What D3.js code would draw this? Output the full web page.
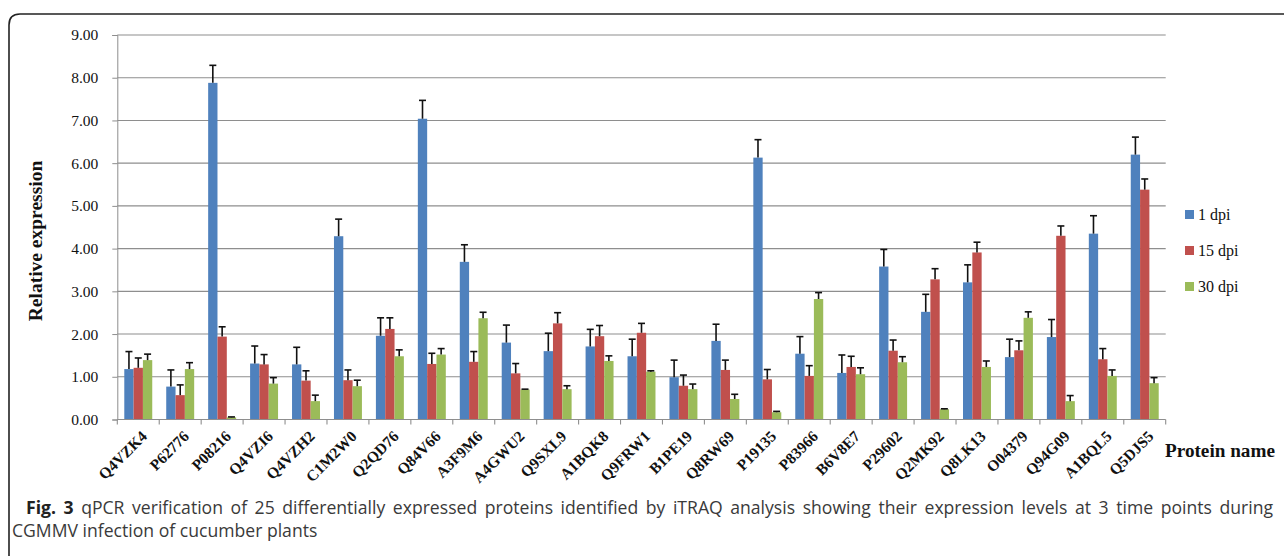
<!DOCTYPE html>
<html>
<head>
<meta charset="utf-8">
<script src="https://cdn.jsdelivr.net/npm/d3@7"></script>
<style>
  body { margin: 0; background: #fff; }
  svg { display: block; }
</style>
</head>
<body>
<div id="chart"></div>
<script>
// protein names on the x axis
const proteins = ["Q4VZK4","P62776","P08216","Q4VZI6","Q4VZH2","C1M2W0","Q2QD76","Q84V66","A3F9M6","A4GWU2",
  "Q9SXL9","A1BQK8","Q9FRW1","B1PE19","Q8RW69","P19135","P83966","B6V8E7","P29602","Q2MK92",
  "Q8LK13","O04379","Q94G09","A1BQL5","Q5DJS5"];
const seriesNames = ["1 dpi", "15 dpi", "30 dpi"];

// relative expression
const dpi1  = [1.18,0.77,7.88,1.31,1.29,4.29,1.96,7.04,3.69,1.80,1.60,1.71,1.48,0.99,1.84,6.13,1.54,1.09,3.58,2.52,3.21,1.46,1.93,4.35,6.20];
const dpi15 = [1.21,0.57,1.94,1.29,0.91,0.92,2.12,1.30,1.35,1.08,2.25,1.95,2.03,0.79,1.16,0.94,1.02,1.23,1.61,3.28,3.91,1.62,4.30,1.41,5.38];
const dpi30 = [1.39,1.18,0.05,0.84,0.43,0.78,1.48,1.52,2.37,0.70,0.71,1.37,1.12,0.71,0.48,0.17,2.82,1.06,1.34,0.24,1.23,2.38,0.43,1.02,0.85];

// error bar sizes (upper side only)
const err1  = [0.41,0.39,0.41,0.41,0.40,0.40,0.42,0.43,0.40,0.41,0.42,0.40,0.40,0.40,0.39,0.42,0.40,0.42,0.40,0.41,0.41,0.42,0.41,0.42,0.41];
const err15 = [0.23,0.24,0.23,0.23,0.23,0.24,0.26,0.25,0.24,0.23,0.25,0.25,0.22,0.25,0.23,0.23,0.24,0.25,0.25,0.25,0.24,0.22,0.23,0.25,0.25];
const err30 = [0.14,0.15,0.01,0.14,0.14,0.14,0.15,0.14,0.14,0.01,0.08,0.12,0.02,0.12,0.11,0.02,0.15,0.15,0.13,0.01,0.14,0.14,0.13,0.14,0.13];

const yTicks = [0,1,2,3,4,5,6,7,8,9];
const colors = ["#4F81BD", "#C0504D", "#9BBB59"];

const W = 1284, H = 556;
const svg = d3.select("#chart").append("svg").attr("width", W).attr("height", H);

// frame around figure (open on right and bottom)
svg.append("path")
  .attr("d", "M9,556 L9,25 Q9,14 20,14 L1284,14")
  .attr("fill", "none").attr("stroke", "#222").attr("stroke-width", 1.6);

const pLeft = 117.3, pRight = 1165.7, pTop = 35, pBottom = 419.5;

const x0 = d3.scaleBand().domain(proteins).range([pLeft, pRight]).padding(0);
const bw = x0.bandwidth();
const x1 = d3.scaleBand().domain(seriesNames).range([bw / 6, bw * 5 / 6]).padding(0);
const y = d3.scaleLinear().domain([0, 9]).range([pBottom, pTop]);

// gridlines
svg.append("g").selectAll("line").data(yTicks.slice(1)).join("line")
  .attr("x1", pLeft).attr("x2", pRight)
  .attr("y1", d => y(d)).attr("y2", d => y(d))
  .attr("stroke", "#8e8e8e").attr("stroke-width", 1.1);

// y axis
const yAxis = svg.append("g").attr("transform", `translate(${pLeft},0)`)
  .call(d3.axisLeft(y).tickValues(yTicks).tickFormat(d3.format(".2f")).tickSize(5).tickPadding(14));
yAxis.select(".domain").attr("stroke", "#8e8e8e");
yAxis.selectAll(".tick line").attr("stroke", "#8e8e8e");
yAxis.selectAll("text").attr("font-family", "'Liberation Serif', 'Times New Roman', serif")
  .attr("font-size", 15.5).attr("fill", "#111");

// group data
const series = [dpi1, dpi15, dpi30];
const errs = [err1, err15, err30];
const rows = proteins.map((p, i) => ({
  name: p,
  vals: seriesNames.map((s, k) => ({ s, k, v: series[k][i], e: errs[k][i] }))
}));

const groups = svg.append("g").selectAll("g").data(rows).join("g")
  .attr("transform", d => `translate(${x0(d.name)},0)`);

groups.selectAll("rect").data(d => d.vals).join("rect")
  .attr("x", d => x1(d.s))
  .attr("y", d => y(d.v))
  .attr("width", x1.bandwidth())
  .attr("height", d => pBottom - y(d.v))
  .attr("fill", d => colors[d.k]);

// error bars
const eb = groups.selectAll("g.err").data(d => d.vals).join("g").attr("class", "err");
eb.append("line")
  .attr("x1", d => x1(d.s) + x1.bandwidth() / 2).attr("x2", d => x1(d.s) + x1.bandwidth() / 2)
  .attr("y1", d => y(d.v)).attr("y2", d => y(d.v + d.e))
  .attr("stroke", "#111").attr("stroke-width", 1.6);
eb.append("line")
  .attr("x1", d => x1(d.s) + x1.bandwidth() / 2 - 3.5).attr("x2", d => x1(d.s) + x1.bandwidth() / 2 + 3.5)
  .attr("y1", d => y(d.v + d.e)).attr("y2", d => y(d.v + d.e))
  .attr("stroke", "#111").attr("stroke-width", 1.6);

// x axis line and ticks at category boundaries
svg.append("line").attr("x1", pLeft).attr("x2", pRight).attr("y1", pBottom).attr("y2", pBottom)
  .attr("stroke", "#8e8e8e").attr("stroke-width", 1.1);
const bounds = proteins.map(p => x0(p)).concat([pRight]);
svg.append("g").selectAll("line").data(bounds).join("line")
  .attr("x1", d => d).attr("x2", d => d).attr("y1", pBottom).attr("y2", pBottom + 5)
  .attr("stroke", "#8e8e8e").attr("stroke-width", 1.1);

// x labels rotated
svg.append("g").selectAll("text").data(proteins).join("text")
  .attr("transform", d => `translate(${x0(d) + bw / 2 + 6},${pBottom + 14}) rotate(-45)`)
  .attr("text-anchor", "end").attr("dy", "0.35em")
  .attr("font-family", "'Liberation Serif', 'Times New Roman', serif")
  .attr("font-weight", "bold").attr("font-size", 15.5).attr("fill", "#111")
  .text(d => d);

svg.append("text").attr("x", 1165).attr("y", 457)
  .attr("font-family", "'Liberation Serif', 'Times New Roman', serif")
  .attr("font-weight", "bold").attr("font-size", 19.2).attr("fill", "#111")
  .text("Protein name");

// y title
svg.append("text").attr("transform", `translate(42,241) rotate(-90)`)
  .attr("text-anchor", "middle")
  .attr("font-family", "'Liberation Serif', 'Times New Roman', serif")
  .attr("font-weight", "bold").attr("font-size", 19.5).attr("fill", "#111")
  .text("Relative expression");

// legend
const lg = svg.append("g").selectAll("g").data(seriesNames).join("g")
  .attr("transform", (d, i) => `translate(1185,${210 + i * 36})`);
lg.append("rect").attr("width", 9).attr("height", 9).attr("fill", (d, i) => colors[i]);
lg.append("text").attr("x", 13).attr("y", 10)
  .attr("font-family", "'Liberation Serif', 'Times New Roman', serif")
  .attr("font-size", 16).attr("fill", "#111").text(d => d);

// caption
const cap = svg.append("g").attr("font-family", "'Open Sans', 'Noto Sans', sans-serif")
  .attr("font-size", 17.6).attr("fill", "#3a3a3a");
const l1 = cap.append("text").attr("x", 26).attr("y", 514);
l1.append("tspan").attr("font-weight", "bold").attr("fill", "#222").text("Fig. 3");
l1.append("tspan").text(" qPCR verification of 25 differentially expressed proteins identified by iTRAQ analysis showing their expression levels at 3 time points during");
const nat = l1.node().getComputedTextLength();
const spaces = 21;
l1.attr("word-spacing", (1273 - 26 - nat) / spaces);
cap.append("text").attr("x", 12).attr("y", 537).text("CGMMV infection of cucumber plants");
</script>
</body>
</html>
